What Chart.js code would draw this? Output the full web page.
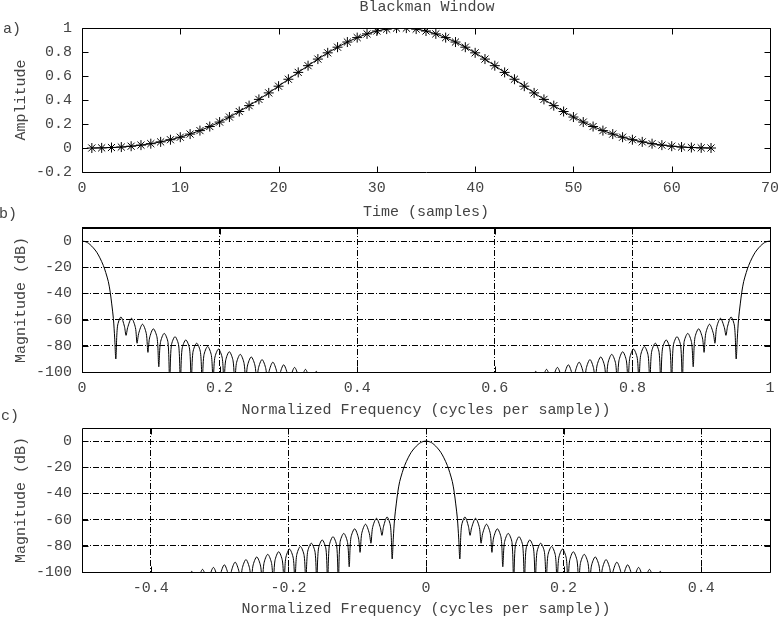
<!DOCTYPE html>
<html>
<head>
<meta charset="utf-8">
<script src="https://cdn.jsdelivr.net/npm/chart.js@4.4.1/dist/chart.umd.min.js"></script>
<style>
  body { margin: 0; width: 778px; height: 618px; overflow: hidden; background: #fff; position: relative; font-family: 'Liberation Mono', monospace; color: #444; }
  canvas { position: absolute; left: 0; }
  .label { position: absolute; font-size: 15px; line-height: 18px; white-space: pre; }
</style>
</head>
<body>
<canvas id="chartA" width="800" height="230" style="top:0"></canvas>
<canvas id="chartB" width="800" height="230" style="top:200px"></canvas>
<canvas id="chartC" width="800" height="230" style="top:400px"></canvas>
<div class="label" style="left:427px;top:-1px;transform:translateX(-50%)">Blackman Window</div>
<div class="label" style="left:3px;top:21px">a)</div>
<div class="label" style="left:-1px;top:206px">b)</div>
<div class="label" style="left:1px;top:408px">c)</div>
<script>
// a) 64-point window, samples 1..64
const windowValues = [
  0, 0.001, 0.004, 0.008, 0.015, 0.024, 0.036, 0.051, 0.069, 0.090, 0.116, 0.145, 0.179, 0.216, 0.258, 0.304,
  0.353, 0.405, 0.459, 0.515, 0.573, 0.630, 0.686, 0.741, 0.793, 0.840, 0.883, 0.920, 0.951, 0.975, 0.991, 0.999,
  0.999, 0.991, 0.975, 0.951, 0.920, 0.883, 0.840, 0.793, 0.741, 0.686, 0.630, 0.573, 0.515, 0.459, 0.405, 0.353,
  0.304, 0.258, 0.216, 0.179, 0.145, 0.116, 0.090, 0.069, 0.051, 0.036, 0.024, 0.015, 0.008, 0.004, 0.001, 0,
];

// one-sided magnitude response (offset from the main lobe, dB); the spectrum is symmetric
const specFreq = [
  0, 0.004, 0.008, 0.0116, 0.0165, 0.0214, 0.026, 0.031, 0.0345, 0.0383, 0.041, 0.0432, 0.0456, 0.0475,
  0.0492, 0.0516, 0.0566, 0.0616,
  0.0640, 0.0664, 0.0720, 0.0776,
  0.0800, 0.0824, 0.0879, 0.0934,
  0.0958, 0.0982, 0.1037, 0.1092,
  0.1116, 0.1140, 0.1195, 0.1250,
  0.1274, 0.1298, 0.1352, 0.1406,
  0.1430, 0.1454, 0.1509, 0.1564,
  0.1588, 0.1612, 0.1667, 0.1722,
  0.1747, 0.1771, 0.1826, 0.1881,
  0.1905, 0.1929, 0.1984, 0.2039,
  0.2063, 0.2087, 0.2141, 0.2196,
  0.2220, 0.2244, 0.2300, 0.2356,
  0.2380, 0.2404, 0.2460, 0.2516,
  0.2540, 0.2563, 0.2617, 0.2672,
  0.2695, 0.2719, 0.2774, 0.2829,
  0.2853, 0.2877, 0.2931, 0.2986,
  0.3010, 0.3034, 0.3090, 0.3146,
  0.3170, 0.3193, 0.3248, 0.3303,
  0.3326, 0.3350, 0.3405, 0.3460,
  0.3485, 0.3600,
];
const specDb = [
  0, -0.3, -1.2, -2.6, -5.2, -8.5, -12.8, -18.6, -24, -31, -39, -48, -59, -74,
  -90, -65, -58, -65,
  -72, -66, -59, -66,
  -78, -70.5, -63.5, -70.5,
  -85, -74, -67, -74,
  -96, -77.5, -70.5, -77.5,
  -110, -80, -73, -80,
  -110, -82.5, -75.5, -82.5,
  -110, -85, -78, -85,
  -110, -87.5, -80.5, -87.5,
  -110, -89.5, -82.5, -89.5,
  -110, -91.5, -84.5, -91.5,
  -110, -93.5, -86.5, -93.5,
  -110, -95.5, -88.5, -95.5,
  -110, -97.5, -90.5, -97.5,
  -110, -99.5, -92.5, -99.5,
  -110, -101.5, -94.5, -101.5,
  -110, -103.5, -96.5, -103.5,
  -110, -105, -98, -105,
  -110, -106.5, -99.5, -106.5,
  -110, -112,
];

const aXTicks = [0, 10, 20, 30, 40, 50, 60, 70];
const aXLabels = ['0', '10', '20', '30', '40', '50', '60', '70'];
const aYTicks = [-0.2, 0, 0.2, 0.4, 0.6, 0.8, 1];
const aYLabels = ['-0.2', '0', '0.2', '0.4', '0.6', '0.8', '1'];
const bXTicks = [0, 0.2, 0.4, 0.6, 0.8, 1];
const bXLabels = ['0', '0.2', '0.4', '0.6', '0.8', '1'];
const cXTicks = [-0.4, -0.2, 0, 0.2, 0.4];
const cXLabels = ['-0.4', '-0.2', '0', '0.2', '0.4'];
const dbTicks = [-100, -80, -60, -40, -20, 0];
const dbLabels = ['-100', '-80', '-60', '-40', '-20', '0'];

const INK = '#444';
Chart.defaults.font.family = "'Liberation Mono', monospace";
Chart.defaults.font.size = 15;
Chart.defaults.color = INK;

function frame(topWidth) {
  return {
    id: 'frame',
    afterDatasetsDraw(chart) {
      const { ctx, chartArea: area, scales } = chart;
      const l = Math.round(area.left) + 0.5;
      const r = Math.round(area.right) + 0.5;
      const t = Math.round(area.top) + 0.5;
      const b = Math.round(area.bottom) + 0.5;
      ctx.save();
      ctx.strokeStyle = '#000';
      ctx.lineWidth = 1;
      ctx.setLineDash([]);
      ctx.beginPath();
      ctx.rect(l, t, r - l, b - t);
      scales.x.ticks.forEach(tick => {
        const px = Math.round(scales.x.getPixelForValue(tick.value)) + 0.5;
        ctx.moveTo(px, b); ctx.lineTo(px, b - 6);
        ctx.moveTo(px, t); ctx.lineTo(px, t + 6);
      });
      scales.y.ticks.forEach(tick => {
        const py = Math.round(scales.y.getPixelForValue(tick.value)) + 0.5;
        ctx.moveTo(l, py); ctx.lineTo(l + 6, py);
        ctx.moveTo(r, py); ctx.lineTo(r - 6, py);
      });
      ctx.stroke();
      if (topWidth > 1) {
        ctx.lineWidth = topWidth;
        ctx.beginPath();
        ctx.moveTo(l - 0.5, t - 0.5);
        ctx.lineTo(r + 0.5, t - 0.5);
        ctx.stroke();
      }
      ctx.restore();
    },
  };
}

function axis(opts) {
  const horizontal = opts.horizontal;
  return {
    type: 'linear',
    min: opts.min,
    max: opts.max,
    afterBuildTicks(scale) {
      scale.ticks = opts.ticks.map(value => ({ value }));
    },
    afterFit(scale) {
      if (horizontal) scale.height = 58;
      else scale.width = 82;
    },
    ticks: {
      padding: horizontal ? 7 : 10,
      autoSkip: false,
      maxRotation: 0,
      callback: (value, index) => opts.labels[index],
    },
    grid: { display: opts.grid, color: '#000', lineWidth: 1, drawTicks: false },
    border: { display: false, dash: [6, 2, 1, 2] },
    title: { display: true, text: opts.title, color: INK, padding: opts.titlePad },
  };
}

function drawPanel(id, datasets, x, y, topWidth) {
  new Chart(document.getElementById(id).getContext('2d'), {
    type: 'line',
    data: { datasets },
    options: {
      responsive: false,
      animation: false,
      devicePixelRatio: 1,
      layout: { padding: { top: 28, right: 30, bottom: 0, left: 0 } },
      plugins: { legend: { display: false }, tooltip: { enabled: false } },
      scales: { x: axis({ ...x, horizontal: true }), y: axis({ ...y, horizontal: false }) },
    },
    plugins: [frame(topWidth)],
  });
}

function spectrumLine(points) {
  return {
    data: points,
    borderColor: '#000',
    borderWidth: 1,
    pointRadius: 0,
    tension: 0.3,
    fill: false,
  };
}

// a) window samples
drawPanel('chartA', [{
  data: windowValues.map((v, i) => ({ x: i + 1, y: v })),
  borderColor: '#000',
  borderWidth: 1,
  pointStyle: 'star',
  pointRadius: 5,
  pointBorderColor: '#000',
  pointBorderWidth: 1,
  pointBackgroundColor: 'transparent',
  tension: 0,
}], {
  min: 0, max: 70, ticks: aXTicks, labels: aXLabels, grid: false, title: 'Time (samples)', titlePad: 9,
}, {
  min: -0.2, max: 1, ticks: aYTicks, labels: aYLabels, grid: false, title: 'Amplitude', titlePad: 12,
}, 1);

// b) 0..1 cycles per sample
const lowSide = specFreq.map((f, i) => ({ x: f, y: specDb[i] }));
const highSide = specFreq.map((f, i) => ({ x: 1 - f, y: specDb[i] }));
drawPanel('chartB', [spectrumLine(lowSide), spectrumLine(highSide)], {
  min: 0, max: 1, ticks: bXTicks, labels: bXLabels, grid: true,
  title: 'Normalized Frequency (cycles per sample))', titlePad: 11,
}, {
  min: -100, max: 10, ticks: dbTicks, labels: dbLabels, grid: true, title: 'Magnitude (dB)', titlePad: 12,
}, 2);

// c) centred, -0.5..0.5
const centred = specFreq.slice(1).map((f, i) => ({ x: -f, y: specDb[i + 1] })).reverse()
  .concat(specFreq.map((f, i) => ({ x: f, y: specDb[i] })));
drawPanel('chartC', [spectrumLine(centred)], {
  min: -0.5, max: 0.5, ticks: cXTicks, labels: cXLabels, grid: true,
  title: 'Normalized Frequency (cycles per sample))', titlePad: 12,
}, {
  min: -100, max: 10, ticks: dbTicks, labels: dbLabels, grid: true, title: 'Magnitude (dB)', titlePad: 12,
}, 1);
</script>
</body>
</html>
